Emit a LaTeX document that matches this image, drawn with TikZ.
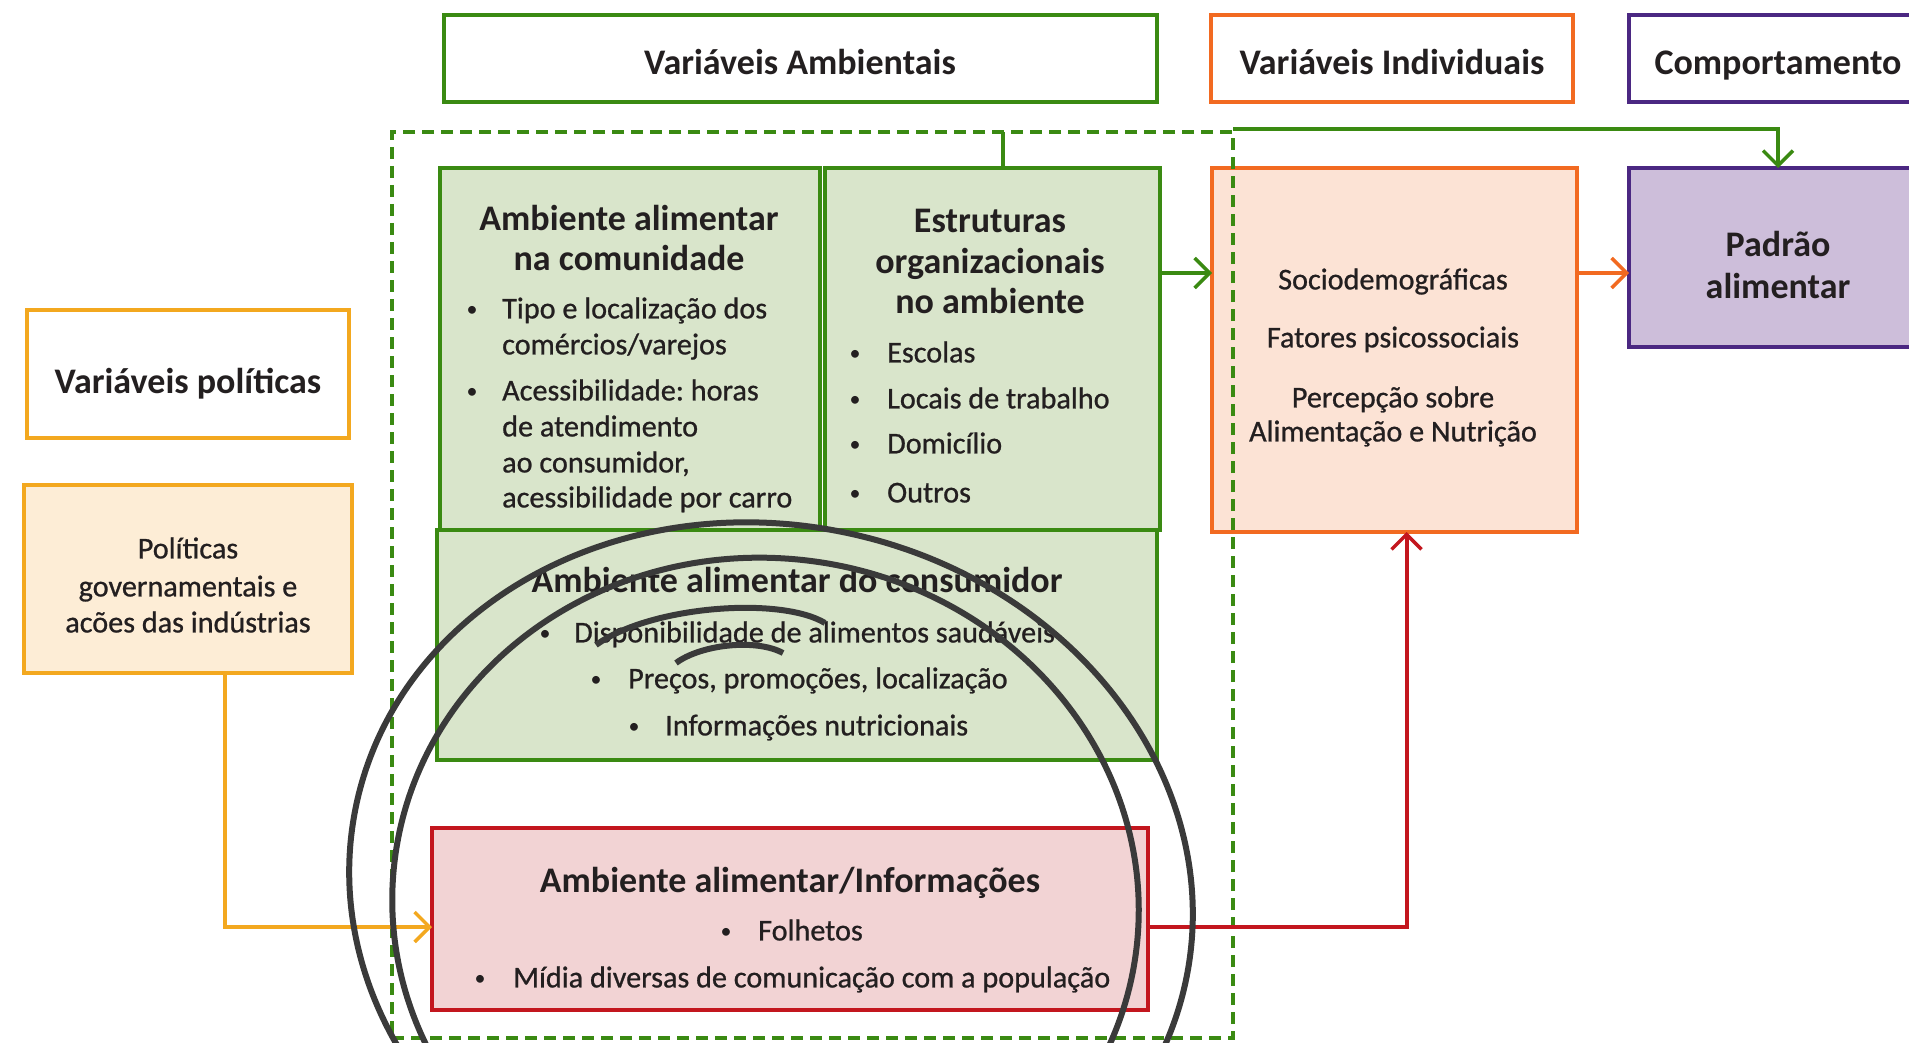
\documentclass[tikz,border=0pt]{standalone}
\usepackage{fontspec}
\setmainfont{Carlito}
\newfontfamily\bodyfont[FakeBold=0.8]{Carlito}
\frenchspacing
\usepackage{xcolor}
\definecolor{EnvGreen}{HTML}{3A8A12}
\definecolor{EnvFill}{HTML}{D9E5CB}
\definecolor{IndOrange}{HTML}{F26A21}
\definecolor{IndFill}{HTML}{FCE3D5}
\definecolor{BehPurple}{HTML}{4B2882}
\definecolor{BehFill}{HTML}{CDBEDA}
\definecolor{PolYellow}{HTML}{F3A81F}
\definecolor{PolFill}{HTML}{FDEDD6}
\definecolor{InfoRed}{HTML}{C3161E}
\definecolor{InfoFill}{HTML}{F2D3D4}
\definecolor{SketchGray}{HTML}{3A3A3A}
\definecolor{TextDark}{HTML}{231F20}
\usepackage{tikz}
\usetikzlibrary{arrows.meta}

\begin{document}
\begin{tikzpicture}[x=1pt, y=-1pt,
    box/.style={draw=#1, line width=4.5pt, inner sep=0pt, outer sep=0pt},
    headtext/.style={font=\fontsize{36}{42}\selectfont\bfseries, text=TextDark, inner sep=0pt, anchor=mid},
    bodytext/.style={font=\fontsize{30.2}{36}\bodyfont\frenchspacing, text=TextDark, inner sep=0pt, anchor=mid west},
    centertext/.style={bodytext, anchor=mid},
    bulletmark/.style={font=\fontsize{22}{22}\selectfont, text=TextDark, inner sep=0pt, anchor=center},
    tip/.style={-{Straight Barb[length=15pt,width=30pt,line width=3.5pt]}},
    garrow/.style={draw=EnvGreen, line width=4pt, tip},
    oarrow/.style={draw=IndOrange, line width=4pt, tip},
    rarrow/.style={draw=InfoRed, line width=4pt, tip},
    yarrow/.style={draw=PolYellow, line width=4pt, tip},
    sketch/.style={draw=SketchGray, line width=6pt}]
        \useasboundingbox (0,0) rectangle (1909,1043);
        \clip (0,0) rectangle (1909,1043);
        \node[box=EnvGreen, minimum width=713pt, minimum height=87pt] (ambhead) at (800.5,58.5) {};
        \node[box=IndOrange, minimum width=362pt, minimum height=87pt] (indhead) at (1392,58.5) {};
        \node[box=BehPurple, minimum width=298pt, minimum height=87pt] (comphead) at (1778,58.5) {};
        \node[box=PolYellow, minimum width=322pt, minimum height=128pt] (polvar) at (188,374) {};
        \node[box=PolYellow, fill=PolFill, minimum width=328pt, minimum height=188pt] (polgov) at (188,579) {};
        \node[box=EnvGreen, fill=EnvFill, minimum width=380pt, minimum height=362pt] (comun) at (630,349) {};
        \node[box=EnvGreen, fill=EnvFill, minimum width=335pt, minimum height=362pt] (estrut) at (992.5,349) {};
        \node[box=EnvGreen, fill=EnvFill, minimum width=720pt, minimum height=230pt] (consum) at (797,645) {};
        \node[box=InfoRed, fill=InfoFill, minimum width=716pt, minimum height=182pt] (info) at (790,919) {};
        \node[box=IndOrange, fill=IndFill, minimum width=365pt, minimum height=364pt] (socio) at (1394.5,350) {};
        \node[box=BehPurple, fill=BehFill, minimum width=298pt, minimum height=179pt] (padrao) at (1778,257.5) {};
        \node[box=EnvGreen, line width=4pt, dash pattern=on 12pt off 7pt, minimum width=841pt, minimum height=906pt] (envbox) at (812.5,585) {};

        \node[headtext] (ambt) at (800,72) {Variáveis Ambientais};
        \node[headtext] (indt) at (1392,72) {Variáveis Individuais};
        \node[headtext] (compt) at (1778,72) {Comportamento};
        \node[headtext] (polt) at (188,391) {Variáveis políticas};
        \foreach \ty/\tx [count=\i] in {556/Políticas, 594/governamentais e, 630/acões das indústrias}
          \node[centertext] (pg\i) at (188,\ty) {\tx};

        \foreach \ty/\tx [count=\i] in {228/Ambiente alimentar, 268/na comunidade}
          \node[headtext] (ct\i) at (629,\ty) {\tx};
        \foreach \ty [count=\i] in {311,393}
          \node[bulletmark] (cb\i) at (472,\ty) {\textbullet};
        \foreach \ty/\tx [count=\i] in {316/Tipo e localização dos, 352/{comércios/varejos}, 398/Acessibilidade: horas, 434/de atendimento, 470/{ao consumidor,}, 505/acessibilidade por carro}
          \node[bodytext] (cl\i) at (502,\ty) {\tx};

        \foreach \ty/\tx [count=\i] in {230/Estruturas, 271/organizacionais, 311/no ambiente}
          \node[headtext] (et\i) at (990,\ty) {\tx};
        \foreach \ty/\tx [count=\i] in {360/Escolas, 406/Locais de trabalho, 451/Domicílio, 500/Outros} {
          \node[bulletmark] (eb\i) at (855,\ty-5) {\textbullet};
          \node[bodytext] (el\i) at (887,\ty) {\tx};
        }

        \node[headtext] (kt) at (797,590) {Ambiente alimentar do consumidor};
        \foreach \bx/\lx/\ty/\tx [count=\i] in {545/574/640/Disponibilidade de alimentos saudáveis, 596/628/686/{Preços, promoções, localização}, 634/665/733/Informações nutricionais} {
          \node[bulletmark] (kb\i) at (\bx,\ty-5) {\textbullet};
          \node[bodytext] (kl\i) at (\lx,\ty) {\tx};
        }

        \node[headtext] (it) at (790,890) {Ambiente alimentar/Informações};
        \node[bulletmark] (ib1) at (726,933) {\textbullet};
        \node[bodytext] (il1) at (758,938) {Folhetos};
        \node[bulletmark] (ib2) at (480,980) {\textbullet};
        \node[bodytext] (il2) at (513,985) {Mídia diversas de comunicação com a população};

        \foreach \ty/\tx [count=\i] in {287/Sociodemográficas, 345/Fatores psicossociais, 405/Percepção sobre, 439/Alimentação e Nutrição}
          \node[centertext] (sl\i) at (1393,\ty) {\tx};
        \foreach \ty/\tx [count=\i] in {254/Padrão, 296/alimentar}
          \node[headtext] (pt\i) at (1778,\ty) {\tx};

        \draw[EnvGreen, line width=4pt] ([xshift=10.5pt]estrut.north) -- ([xshift=10.5pt]estrut.north |- envbox.north);
        \draw[garrow] ([yshift=3pt]envbox.north east) -- ([yshift=3pt]envbox.north east -| padrao.north) -- (padrao.north);
        \draw[garrow] ([yshift=76pt]estrut.east) -- ([yshift=76pt]estrut.east -| socio.west);
        \draw[oarrow] ([yshift=77pt]socio.east) -- ([yshift=77pt]socio.east -| padrao.west);
        \draw[rarrow] ([yshift=-8pt]info.east) -| ([xshift=12pt]socio.south);
        \draw[yarrow] ([xshift=37pt]polgov.south) |- ([yshift=-8pt]info.west);

        \draw[sketch, rotate around={-12:(771,893)}] (771,893) ellipse [x radius=424pt, y radius=368pt];
        \draw[sketch, rotate around={-6:(765.5,905)}] (765.5,905) ellipse [x radius=373.5pt, y radius=347pt];
        \draw[sketch] (596,645) .. controls (650,606) and (780,596) .. (825,623);
        \draw[sketch] (676,663) .. controls (700,645) and (755,638) .. (783,653);
      \end{tikzpicture}
\end{document}
